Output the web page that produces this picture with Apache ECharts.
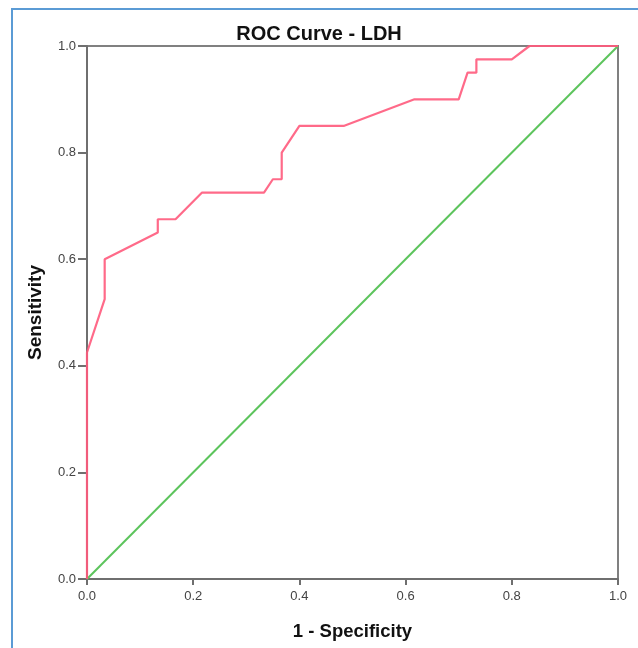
<!DOCTYPE html>
<html>
<head>
<meta charset="utf-8">
<script src="https://cdn.jsdelivr.net/npm/echarts@6/dist/echarts.min.js"></script>
<style>
html,body{margin:0;padding:0;background:#fff;}
#c{width:638px;height:648px;}
</style>
</head>
<body>
<div id="c"></div>
<script>
// 1 - Specificity values of the ROC curve steps
const rocFpr = [0, 0, 0.0333, 0.0333, 0.1333, 0.1333, 0.1667, 0.2167, 0.3333, 0.35, 0.3667, 0.3667, 0.4, 0.4833, 0.6167, 0.7, 0.7167, 0.7333, 0.7333, 0.8, 0.8333, 1];
// Sensitivity values of the ROC curve steps
const rocTpr = [0, 0.425, 0.525, 0.6, 0.65, 0.675, 0.675, 0.725, 0.725, 0.75, 0.75, 0.8, 0.85, 0.85, 0.9, 0.9, 0.95, 0.95, 0.975, 0.975, 1, 1];
// Reference (chance) line
const refX = [0, 1];
const refY = [0, 1];
const axisTicks = [0, 0.2, 0.4, 0.6, 0.8, 1.0];

const titleText = 'ROC Curve - LDH';
const xName = '1 - Specificity';
const yName = 'Sensitivity';

const rocData = rocFpr.map((x, i) => [x, rocTpr[i]]);
const refData = refX.map((x, i) => [x, refY[i]]);

const chart = echarts.init(document.getElementById('c'), null, {renderer: 'canvas'});
const font = 'Liberation Sans, Arial, sans-serif';
const axisLineColor = '#6f6f6f';

chart.setOption({
  animation: false,
  backgroundColor: '#fff',
  title: {
    text: titleText,
    left: 'center',
    top: 19,
    textStyle: {fontFamily: font, fontSize: 20, fontWeight: 'bold', color: '#111'}
  },
  graphic: [{
    type: 'rect',
    shape: {x: 12, y: 9, width: 700, height: 700},
    style: {fill: 'none', stroke: '#5b9bd5', lineWidth: 2},
    silent: true,
    z: 100
  }],
  grid: {
    left: 87, right: 20, top: 46, bottom: 69,
    show: true,
    borderColor: '#808080',
    borderWidth: 2,
    backgroundColor: 'transparent'
  },
  xAxis: {
    type: 'value',
    min: 0, max: 1, interval: 0.2,
    name: xName,
    nameLocation: 'middle',
    nameGap: 43,
    nameTextStyle: {fontFamily: font, fontSize: 18.5, fontWeight: 'bold', color: '#111'},
    axisLine: {show: true, lineStyle: {color: axisLineColor, width: 2}},
    axisTick: {show: true, length: 6, lineStyle: {color: axisLineColor, width: 2}},
    axisLabel: {
      fontFamily: font, fontSize: 13, color: '#444', margin: 11,
      formatter: v => v.toFixed(1)
    },
    splitLine: {show: false}
  },
  yAxis: {
    type: 'value',
    min: 0, max: 1, interval: 0.2,
    name: yName,
    nameLocation: 'middle',
    nameGap: 42,
    nameRotate: 90,
    nameTextStyle: {fontFamily: font, fontSize: 19, fontWeight: 'bold', color: '#111'},
    axisLine: {show: true, lineStyle: {color: axisLineColor, width: 2}},
    axisTick: {show: true, length: 9, lineStyle: {color: axisLineColor, width: 2}},
    axisLabel: {
      fontFamily: font, fontSize: 13, color: '#444', margin: 11,
      formatter: v => v.toFixed(1)
    },
    splitLine: {show: false}
  },
  series: [
    {
      type: 'line',
      name: 'Reference',
      data: refData,
      symbol: 'none',
      lineStyle: {color: '#5cc45c', width: 2},
      z: 2
    },
    {
      type: 'line',
      name: 'LDH',
      data: rocData,
      symbol: 'none',
      lineStyle: {color: '#ff5a7c', width: 2.2, opacity: 0.9},
      z: 3
    }
  ]
});
</script>
</body>
</html>
